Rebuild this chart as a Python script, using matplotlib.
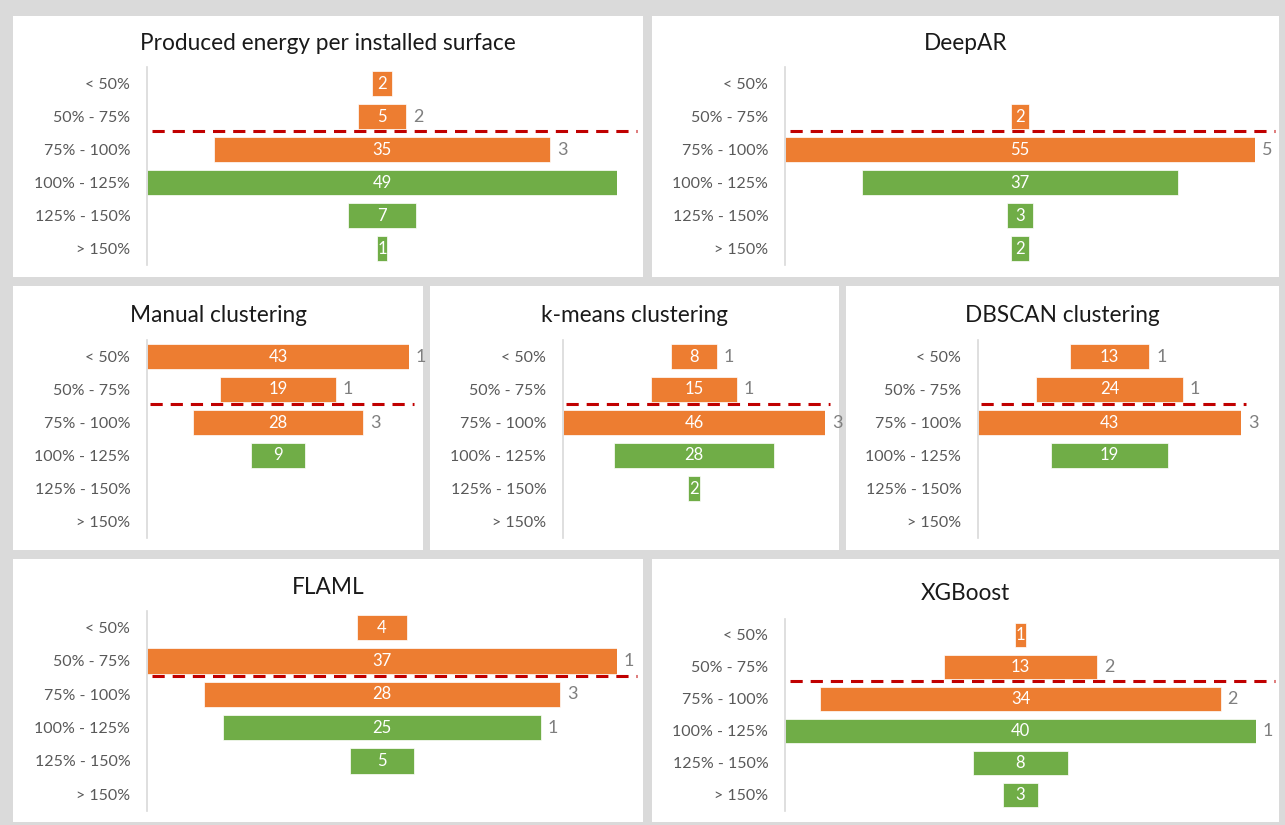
import matplotlib.pyplot as plt
from matplotlib.patches import Rectangle

plt.rcParams['font.family'] = ['Lato', 'DejaVu Sans']

categories = ['< 50%', '50% - 75%', '75% - 100%', '100% - 125%', '125% - 150%', '> 150%']

titles = ['Produced energy per installed surface', 'DeepAR', 'Manual clustering',
          'k-means clustering', 'DBSCAN clustering', 'FLAML', 'XGBoost']

energy_surface = [2, 5, 35, 49, 7, 1]
deepar = [0, 2, 55, 37, 3, 2]
manual = [43, 19, 28, 9, 0, 0]
kmeans = [8, 15, 46, 28, 2, 0]
dbscan = [13, 24, 43, 19, 0, 0]
flaml = [4, 37, 28, 25, 5, 0]
xgboost = [1, 13, 34, 40, 8, 3]

# secondary counts printed in grey beside the bars (None = no label)
energy_surface_extra = [None, 2, 3, None, None, None]
deepar_extra = [None, None, 5, None, None, None]
manual_extra = [1, 1, 3, None, None, None]
kmeans_extra = [1, 1, 3, None, None, None]
dbscan_extra = [1, 1, 3, None, None, None]
flaml_extra = [None, 1, 3, 1, None, None]
xgboost_extra = [None, 2, 2, 1, None, None]

series = [energy_surface, deepar, manual, kmeans, dbscan, flaml, xgboost]
extras = [energy_surface_extra, deepar_extra, manual_extra, kmeans_extra,
          dbscan_extra, flaml_extra, xgboost_extra]

ORANGE = '#ED7D31'
GREEN = '#70AD47'
RED = '#C00000'
GREY_TXT = '#595959'

W, H = 1285, 825
fig = plt.figure(figsize=(W / 100, H / 100), dpi=100)
fig.patch.set_facecolor('#dadada')

# panel boxes (pixels: x0, y0, x1, y1)
panels = [(13, 16, 643, 277), (652, 16, 1279, 277),
          (13, 286, 423, 550), (430, 286, 839, 550), (846, 286, 1279, 550),
          (13, 559, 643, 822), (652, 559, 1279, 822)]
# plot areas (pixels: left, top, right, bottom)
areas = [(147, 67, 617, 265), (785, 67, 1255, 265),
         (147, 340, 409, 538), (563, 340, 825, 538), (978, 340, 1241, 538),
         (147, 611, 617, 811), (785, 619, 1256, 811)]
title_y = [43, 43, 315, 315, 315, 588, 593]
dash_end = [1.043, 1.043, 1.02, 1.02, 1.02, 1.043, 1.04]


def px_rect(x0, y0, x1, y1):
    return [x0 / W, 1 - y1 / H, (x1 - x0) / W, (y1 - y0) / H]


for i in range(len(series)):
    px0, py0, px1, py1 = panels[i]
    fig.patches.append(Rectangle((px0 / W, 1 - py1 / H), (px1 - px0) / W, (py1 - py0) / H,
                                 transform=fig.transFigure, facecolor='white',
                                 edgecolor='none', zorder=-10))
    fig.text((px0 + px1) / 2 / W, 1 - title_y[i] / H, titles[i], ha='center', va='center',
             fontsize=16.3, color='#1a1a1a')

    ax = fig.add_axes(px_rect(*areas[i]))
    ax.set_facecolor('none')
    vals = series[i]
    vmax = max(vals)
    ypos = list(range(len(categories)))
    colors = [ORANGE] * 3 + [GREEN] * 3
    for y, v, c in zip(ypos, vals, colors):
        if v == 0:
            continue
        ax.barh(y, v, left=-v / 2, height=0.76, color=c, edgecolor='white', linewidth=0.5)
        ax.text(0, y, str(v), ha='center', va='center', color='white', fontsize=12)
    for y, v, e in zip(ypos, vals, extras[i]):
        if e is None:
            continue
        ax.annotate(str(e), (v / 2, y), xytext=(5, 0), textcoords='offset points',
                    ha='left', va='center', color='#7f7f7f', fontsize=13,
                    annotation_clip=False)

    ax.set_xlim(-vmax / 2, vmax / 2)
    ax.set_ylim(len(categories) - 0.5, -0.5)
    ax.set_yticks(ypos)
    ax.set_yticklabels(categories, fontsize=11.5, color=GREY_TXT)
    ax.tick_params(axis='y', length=0, pad=12)
    ax.set_xticks([])
    for s in ['top', 'right', 'bottom']:
        ax.spines[s].set_visible(False)
    ax.spines['left'].set_color('#d9d9d9')
    ax.spines['left'].set_linewidth(1.2)

    # threshold between under- and over-performance bands
    ax.plot([0.01, dash_end[i]], [1.45, 1.45], transform=ax.get_yaxis_transform(),
            color=RED, linewidth=2.2, dashes=(4, 2.6), clip_on=False, zorder=5)

fig.savefig('out.png', dpi=100, facecolor=fig.get_facecolor())
